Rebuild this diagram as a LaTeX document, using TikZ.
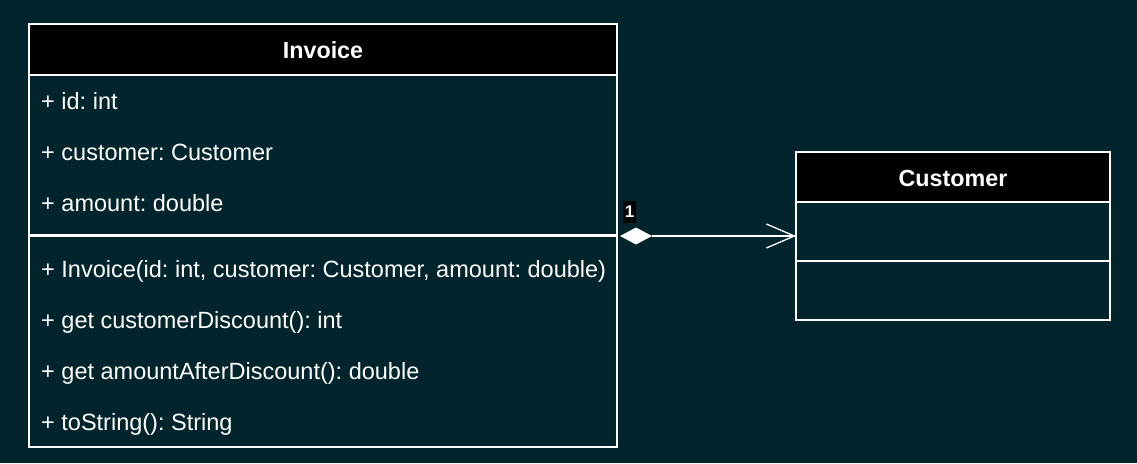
\documentclass[tikz,border=0pt]{standalone}
\usepackage{fontspec}
\setmainfont{Liberation Sans}
\usetikzlibrary{arrows.meta,shapes.geometric}
\definecolor{bg}{HTML}{02252D}
\frenchspacing
\tikzset{
  boxline/.style={draw=white,line width=1.3pt},
  header/.style={boxline,fill=black},
  member/.style={anchor=west,text=white,font=\fontsize{23.5}{28}\selectfont,inner sep=0pt},
  title/.style={text=white,font=\bfseries\fontsize{23.3}{28}\selectfont,inner sep=0pt},
}
\begin{document}
\begin{tikzpicture}[x=1pt,y=-1pt]
\fill[bg] (0,0) rectangle (1137,463);
\useasboundingbox (0,0) rectangle (1137,463);
% Invoice
\draw[boxline] (29,24) rectangle (617,447);
\draw[header] (29,24) rectangle (617,75);
\node[title] (invtitle) at (323,50) {Invoice};
\draw[draw=white,line width=2.2pt] (29,235.5) -- (617,235.5);
\node[member] (a1) at (41,101) {+ id: int};
\node[member] (a2) at (41,152) {+ customer: Customer};
\node[member] (a3) at (41,203) {+ amount: double};
\node[member] (m1) at (41,271) {+ Invoice(id: int, customer: Customer, amount: double)};
\node[member] (m2) at (41,322) {+ get customerDiscount(): int};
\node[member] (m3) at (41,373) {+ get amountAfterDiscount(): double};
\node[member] (m4) at (41,424) {+ toString(): String};
\coordinate (inv) at (617,236);
% Customer
\draw[boxline] (796,152) rectangle (1110,320);
\draw[header] (796,152) rectangle (1110,202);
\node[title] (custtitle) at (953,178) {Customer};
\draw[boxline] (796,261) -- (1110,261);
\coordinate (cust) at (796,236);
% association
\draw[white,line width=1.3pt,
  -{Straight Barb[length=28pt,width=24pt,line width=1.3pt]}] (652,236) -- (cust);
\fill[white] (620,236) -- (636,227.5) -- (652,236) -- (636,244.5) -- cycle;
\node[fill=black,text=white,font=\bfseries\fontsize{17}{18}\selectfont,inner xsep=1.5pt,inner ysep=0pt,minimum height=22pt] (mult) at (629.5,212) {1};
\end{tikzpicture}
\end{document}
